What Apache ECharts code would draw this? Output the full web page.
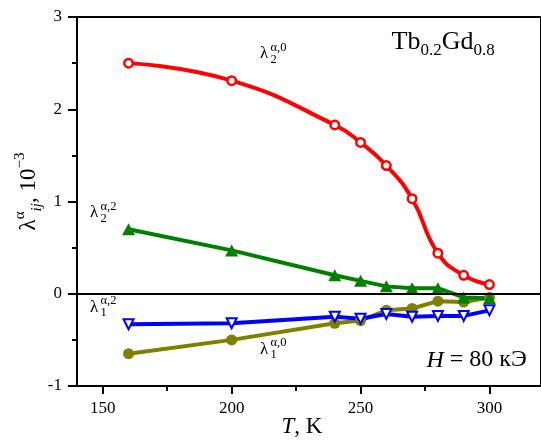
<!DOCTYPE html>
<html>
<head>
<meta charset="utf-8">
<script src="https://cdn.jsdelivr.net/npm/echarts@6/dist/echarts.min.js"></script>
<style>
  html, body { margin: 0; padding: 0; background: #fff; }
  #chart { width: 541px; height: 441px; }
</style>
</head>
<body>
<div id="chart"></div>
<script>
// Magnetostriction constants of Tb0.2Gd0.8 versus temperature, H = 80 kOe
const temperatures = [160, 200, 240, 250, 260, 270, 280, 290, 300];
const lambda2a0 = [2.50, 2.31, 1.83, 1.64, 1.39, 1.03, 0.44, 0.20, 0.10];
const lambda2a2 = [0.70, 0.47, 0.20, 0.14, 0.08, 0.06, 0.06, -0.04, -0.05];
const lambda1a2 = [-0.33, -0.32, -0.25, -0.27, -0.22, -0.25, -0.24, -0.24, -0.18];
const lambda1a0 = [-0.65, -0.50, -0.32, -0.29, -0.18, -0.16, -0.08, -0.09, -0.04];

const xMajorTicks = [150, 200, 250, 300];
const xMinorTicks = [175, 225, 275];

const SERIF = 'Liberation Serif';
const pairs = ys => temperatures.map((t, i) => [t, ys[i]]);

// Lays out runs along a baseline as title components. Each run carries its
// advance width in em; a run with `stack` puts superscript over subscript.
function runsToTitles(x0, baseline, runs) {
  const out = [];
  let x = x0;
  for (const r of runs) {
    const parts = r.stack || [r];
    let adv = 0;
    for (const p of parts) {
      out.push({
        text: p.t,
        left: x,
        top: baseline + (p.dy || 0) - 0.8375 * p.size,
        padding: 0,
        itemGap: 0,
        textStyle: {
          fontFamily: SERIF,
          fontSize: p.size,
          fontWeight: 'normal',
          fontStyle: p.italic ? 'italic' : 'normal',
          color: '#000',
          lineHeight: p.size
        }
      });
      adv = Math.max(adv, (p.em || 0) * p.size);
    }
    x += adv;
  }
  return out;
}

function lambdaLabel(x, baseline, sub, sup) {
  return runsToTitles(x, baseline, [
    { t: 'λ', size: 17, em: 0.62 },
    { stack: [{ t: sup, size: 12.5, dy: -8 }, { t: sub, size: 12.5, dy: 4 }] }
  ]);
}

const titles = [
  ...lambdaLabel(260, 59.5, '2', 'α,0'),
  ...lambdaLabel(90, 218.5, '2', 'α,2'),
  ...lambdaLabel(90, 313, '1', 'α,2'),
  ...lambdaLabel(260, 355, '1', 'α,0'),
  ...runsToTitles(391.5, 50.7, [
    { t: 'Tb', size: 26, em: 1.111 },
    { t: '0.2', size: 17, dy: 6, em: 1.25 },
    { t: 'Gd', size: 26, em: 1.222 },
    { t: '0.8', size: 17, dy: 6, em: 1.25 }
  ]),
  ...runsToTitles(426.5, 368.3, [
    { t: 'H', size: 24, italic: true, em: 0.722 },
    { t: '\u00a0= 80 кЭ', size: 24 }
  ]),
  ...runsToTitles(281.5, 435, [
    { t: 'T', size: 23, italic: true, em: 0.556 },
    { t: ', K', size: 23 }
  ])
];

const chart = echarts.init(document.getElementById('chart'), null, { renderer: 'canvas' });

const option = {
  animation: false,
  title: titles,
  grid: {
    left: 77, top: 17, right: -4, bottom: 55,
    show: true, borderColor: '#000', borderWidth: 2,
    containLabel: false
  },
  xAxis: [
    {
      type: 'value', min: 140, max: 320, position: 'bottom',
      axisLine: { show: true, onZero: false, lineStyle: { color: '#000', width: 2 } },
      axisTick: { show: true, inside: false, length: 8, lineStyle: { color: '#000', width: 2 }, customValues: xMajorTicks },
      axisLabel: { customValues: xMajorTicks, fontFamily: SERIF, fontSize: 17, color: '#000', margin: 14 },
      splitLine: { show: false }
    },
    {
      type: 'value', min: 140, max: 320, position: 'bottom',
      axisLine: { show: false, onZero: false },
      axisTick: { show: true, inside: false, length: 5, lineStyle: { color: '#000', width: 2 }, customValues: xMinorTicks },
      axisLabel: { show: false },
      splitLine: { show: false }
    }
  ],
  yAxis: {
    type: 'value', min: -1, max: 3, interval: 1,
    axisLine: { show: true, lineStyle: { color: '#000', width: 2 } },
    axisTick: { show: true, inside: false, length: 9, lineStyle: { color: '#000', width: 2 } },
    minorTick: { show: true, splitNumber: 2, length: 5, lineStyle: { color: '#000', width: 2 } },
    axisLabel: { fontFamily: SERIF, fontSize: 17, color: '#000', margin: 15, formatter: v => String(v) },
    splitLine: { show: false },
    minorSplitLine: { show: false },
    name: '{gap| }{l|λ}{sup|α}{sub|ij}{l|, 10}{sup|−3}',
    nameLocation: 'middle',
    nameRotate: 90,
    nameGap: 32,
    nameMoveOverlap: false,
    nameTextStyle: {
      fontFamily: SERIF, fontSize: 23, color: '#000', lineHeight: 32,
      rich: {
        gap: { width: 20, fontSize: 23, lineHeight: 32 },
        l: { fontFamily: SERIF, fontSize: 23, lineHeight: 32, color: '#000' },
        sup: { fontFamily: SERIF, fontSize: 15, lineHeight: 15, verticalAlign: 'top', color: '#000' },
        sub: { fontFamily: SERIF, fontSize: 15, lineHeight: 16, verticalAlign: 'bottom', fontStyle: 'italic', color: '#000' }
      }
    }
  },
  series: [
    {
      type: 'line', name: 'λ1 α,0', data: pairs(lambda1a0),
      symbol: 'circle', symbolSize: 11,
      itemStyle: { color: '#808000' },
      lineStyle: { color: '#808000', width: 4 },
      emphasis: { disabled: true },
      markLine: {
        silent: true, symbol: ['none', 'none'],
        label: { show: false },
        lineStyle: { color: '#000', width: 2, type: 'solid' },
        data: [{ yAxis: 0 }]
      }
    },
    {
      type: 'line', name: 'λ1 α,2', data: pairs(lambda1a2),
      symbol: 'triangle', symbolRotate: 180, symbolSize: 10,
      itemStyle: { color: '#fff', borderColor: '#0000ff', borderWidth: 2 },
      lineStyle: { color: '#0000ff', width: 4 }
    },
    {
      type: 'line', name: 'λ2 α,2', data: pairs(lambda2a2),
      symbol: 'triangle', symbolSize: [13, 12],
      itemStyle: { color: '#008000' },
      lineStyle: { color: '#008000', width: 4 }
    },
    {
      type: 'line', name: 'λ2 α,0', data: pairs(lambda2a0),
      smooth: 0.5,
      symbol: 'circle', symbolSize: 8.5,
      itemStyle: { color: '#fff', borderColor: '#ff0000', borderWidth: 2.5 },
      lineStyle: { color: '#ff0000', width: 4 }
    }
  ]
};

chart.setOption(option);
</script>
</body>
</html>
